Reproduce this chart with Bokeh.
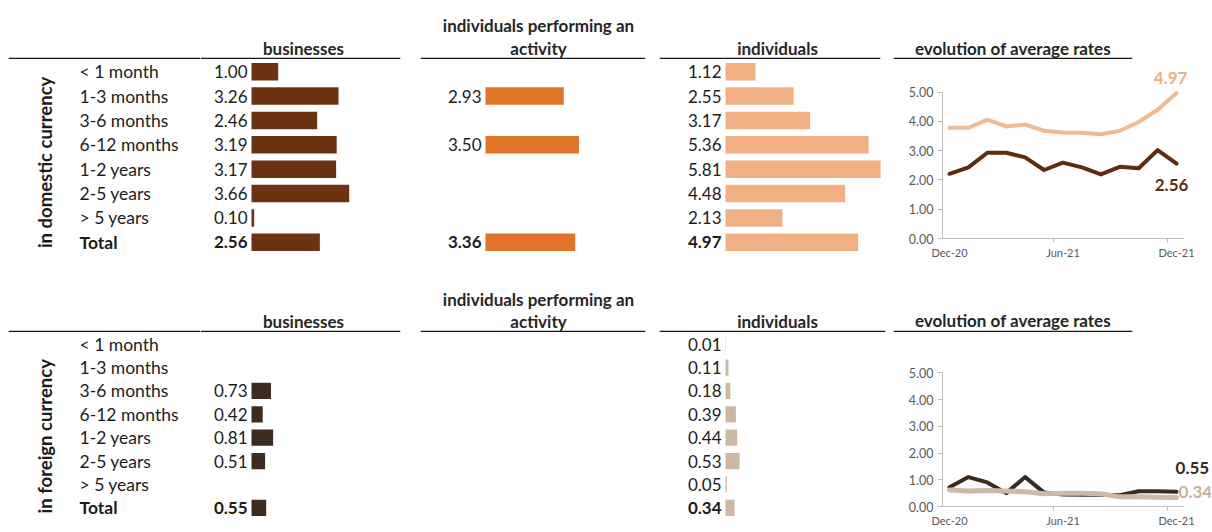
import math
from bokeh.plotting import figure
from bokeh.layouts import row, column
from bokeh.models import (Range1d, FactorRange, Span, Label, FixedTicker,
                          PrintfTickFormatter, ColumnDataSource)
from bokeh.core.properties import value
from bokeh.embed import file_html
from bokeh.resources import INLINE

# ---------------- data ----------------
terms = ["< 1 month", "1-3 months", "3-6 months", "6-12 months",
         "1-2 years", "2-5 years", "> 5 years", "Total"]

dom_business = [1.00, 3.26, 2.46, 3.19, 3.17, 3.66, 0.10, 2.56]
dom_activity = [None, 2.93, None, 3.50, None, None, None, 3.36]
dom_individuals = [1.12, 2.55, 3.17, 5.36, 5.81, 4.48, 2.13, 4.97]

for_business = [None, None, 0.73, 0.42, 0.81, 0.51, None, 0.55]
for_activity = [None, None, None, None, None, None, None, None]
for_individuals = [0.01, 0.11, 0.18, 0.39, 0.44, 0.53, 0.05, 0.34]

months = ["Dec-20", "Jan-21", "Feb-21", "Mar-21", "Apr-21", "May-21", "Jun-21",
          "Jul-21", "Aug-21", "Sep-21", "Oct-21", "Nov-21", "Dec-21"]
tick_months = ["Dec-20", "Jun-21", "Dec-21"]
rate_ticks = [0, 1, 2, 3, 4, 5]

dom_rate_business = [2.21, 2.43, 2.93, 2.93, 2.77, 2.34, 2.59, 2.43, 2.19, 2.45, 2.40, 3.02, 2.56]
dom_rate_individuals = [3.78, 3.78, 4.06, 3.83, 3.89, 3.68, 3.62, 3.61, 3.56, 3.68, 3.98, 4.40, 4.97]
for_rate_business = [0.72, 1.10, 0.90, 0.50, 1.10, 0.52, 0.45, 0.44, 0.44, 0.42, 0.57, 0.57, 0.55]
for_rate_individuals = [0.62, 0.58, 0.60, 0.58, 0.55, 0.48, 0.50, 0.50, 0.48, 0.36, 0.36, 0.35, 0.34]

headers = ["businesses", "individuals performing an", "activity", "individuals",
           "evolution of average rates"]
section_titles = ["in domestic currency", "in foreign currency"]

# ---------------- styles ----------------
FONT = "Lato"
FS = "17px"
TXT = "#1c1c1c"
PX = 26.7  # pixels per rate unit in the bar panels

W_L, W_B, W_A, W_I, W_E = 200, 205, 247, 234, 325
ZERO_B, ZERO_A, ZERO_I = 51, 80, 73
LINE_PX = 18.92  # pixels per month in the rate panels
E_LEFT = 56


def base_fig(width, height, xr, yr, **kw):
    p = figure(width=width, height=height, x_range=xr, y_range=yr,
               output_backend="svg", toolbar_location=None, title=None,
               x_axis_location=None, y_axis_location=None, min_border=0, **kw)
    p.grid.visible = False
    p.outline_line_color = None
    return p


def header_fig(width, height, bl, br, texts, line_y):
    fw = width - bl - br
    p = base_fig(width, height, Range1d(0, fw), Range1d(height, 0),
                 min_border_left=bl, min_border_right=br)
    if texts:
        src = ColumnDataSource(dict(x=[t[1] for t in texts], y=[t[2] for t in texts],
                                    t=[t[0] for t in texts]))
        p.text(x="x", y="y", text="t", source=src, text_align="center",
               text_baseline="middle", text_font=value(FONT), text_font_size=FS,
               text_font_style="bold", text_color="#262626")
    p.add_layout(Span(location=line_y, dimension="width", line_color="#1a1a1a",
                      line_width=1.6))
    return p


def label_fig(width, height, bottom, title, title_y):
    p = base_fig(width, height, Range1d(0, width), FactorRange(factors=terms[::-1]),
                 min_border_bottom=bottom)
    src = ColumnDataSource(dict(y=terms, t=terms,
                                st=["bold" if t == "Total" else "normal" for t in terms]))
    p.text(x=79, y="y", text="t", source=src, text_align="left", text_baseline="middle",
           text_font=value(FONT), text_font_size="17.5px", text_font_style={"field": "st"},
           text_color=TXT)
    p.text(x=[44], y=[title_y], text=[title], angle=math.pi / 2, text_align="center",
           text_baseline="middle", text_font=value(FONT), text_font_size="18.5px",
           text_font_style="bold", text_color=TXT)
    return p


def bar_fig(width, height, bottom, zero, vals, color, bar_h):
    p = base_fig(width, height, Range1d(-zero / PX, (width - zero) / PX),
                 FactorRange(factors=terms[::-1]), min_border_bottom=bottom)
    idx = [i for i, v in enumerate(vals) if v is not None]
    src = ColumnDataSource(dict(
        y=[terms[i] for i in idx], v=[vals[i] for i in idx],
        lab=["%.2f" % vals[i] for i in idx],
        st=["bold" if terms[i] == "Total" else "normal" for i in idx]))
    p.hbar(y="y", left=0, right="v", height=bar_h, source=src, fill_color=color,
           line_color=None)
    p.text(x=0, y="y", text="lab", source=src, x_offset=-4, text_align="right",
           text_baseline="middle", text_font=value(FONT), text_font_size=FS,
           text_font_style={"field": "st"}, text_color=TXT)
    return p


def rate_fig(width, height, bottom, px_unit, top_px, biz, ind, c_biz, c_ind,
             w_biz, w_ind, lab_biz, lab_ind, c_lab_biz, c_lab_ind):
    n = len(months)
    fw = width - E_LEFT
    x0 = -0.37
    x1 = x0 + fw / LINE_PX
    y1 = 5 + top_px / px_unit
    p = figure(width=width, height=height, x_range=Range1d(x0, x1),
               y_range=Range1d(0, y1), output_backend="svg", toolbar_location=None,
               title=None, min_border=0, min_border_left=E_LEFT, min_border_right=0,
               min_border_top=0, min_border_bottom=bottom)
    p.grid.visible = False
    p.outline_line_color = None
    xs = list(range(n))
    for ys, c, w in [(biz, c_biz, w_biz), (ind, c_ind, w_ind)]:
        p.line(xs, ys, line_color=c, line_width=w, line_cap="round", line_join="round")
    ax = p.yaxis[0]
    ax.bounds = (0, 5)
    ax.ticker = FixedTicker(ticks=rate_ticks)
    ax.formatter = PrintfTickFormatter(format="%.2f")
    ax.axis_line_color = "#bfbfbf"
    ax.major_tick_line_color = "#bfbfbf"
    ax.major_tick_out = 5
    ax.major_tick_in = 0
    ax.minor_tick_line_color = None
    ax.major_label_text_font = FONT
    ax.major_label_text_font_size = "12.5px"
    ax.major_label_text_color = "#595959"
    ax.major_label_standoff = 4
    ax.axis_label_standoff = 0
    bx = p.xaxis[0]
    bx.bounds = (x0, n - 1 - x0)
    tpos = [months.index(m) for m in tick_months]
    bx.ticker = FixedTicker(ticks=tpos, minor_ticks=[t - 0.5 for t in tpos[1:]])
    bx.major_label_overrides = {t: months[t] for t in tpos}
    bx.axis_line_color = "#bfbfbf"
    bx.major_tick_line_color = None
    bx.major_tick_out = 0
    bx.major_tick_in = 0
    bx.minor_tick_line_color = "#bfbfbf"
    bx.minor_tick_out = 4
    bx.minor_tick_in = 0
    bx.major_label_text_font = FONT
    bx.major_label_text_font_size = "11px"
    bx.major_label_text_color = "#595959"
    bx.major_label_standoff = 3
    bx.axis_label_standoff = 0
    for ys, c, (dx, dy, al) in [(biz, c_lab_biz, lab_biz), (ind, c_lab_ind, lab_ind)]:
        p.add_layout(Label(x=n - 1, y=ys[-1], text="%.2f" % ys[-1], x_offset=dx, y_offset=dy,
                           text_align=al, text_baseline="middle", text_font=FONT,
                           text_font_size=FS, text_font_style="bold", text_color=c))
    return p


# ---------------- top section: domestic currency ----------------
TH, TB = 59, 202
top_head = row(
    header_fig(W_L, TH, 8, 0, [], 58),
    header_fig(W_B, TH, 0, 5, [(headers[0], 103, 48)], 58),
    header_fig(W_A, TH, 15, 7, [(headers[1], 118, 25), (headers[2], 118, 48)], 58),
    header_fig(W_I, TH, 7, 6, [(headers[3], 118, 48)], 58),
    header_fig(W_E, TH, 7, W_E - 7 - 239, [(headers[4], 119.5, 48)], 58),
)
top_body = row(
    label_fig(W_L, TB, 7, section_titles[0], 3.78),
    bar_fig(W_B, TB, 7, ZERO_B, dom_business, "#6b3312", 0.72),
    bar_fig(W_A, TB, 7, ZERO_A, dom_activity, "#e07428", 0.72),
    bar_fig(W_I, TB, 7, ZERO_I, dom_individuals, "#f0b084", 0.72),
    column(rate_fig(W_E, TB, 21, 29.6, 33, dom_rate_business, dom_rate_individuals,
                    "#5e2c10", "#eebb92", 4, 4,
                    lab_biz=(-5, -21, "center"), lab_ind=(-6, 15, "center"),
                    c_lab_biz="#5a2d12", c_lab_ind="#efb07f")),
)

# ---------------- bottom section: foreign currency ----------------
BH, BB = 71, 197
bot_head = row(
    header_fig(W_L, BH, 8, 0, [], 70),
    header_fig(W_B, BH, 0, 5, [(headers[0], 103, 60)], 70),
    header_fig(W_A, BH, 15, 7, [(headers[1], 118, 38), (headers[2], 118, 60)], 70),
    header_fig(W_I, BH, 7, 1, [(headers[3], 118, 60)], 70),
    header_fig(W_E, BH, 7, W_E - 7 - 239, [(headers[4], 119.5, 59)], 70),
)
bot_body = row(
    label_fig(W_L, BB, 10, section_titles[1], 3.56),
    bar_fig(W_B, BB, 10, ZERO_B, for_business, "#3e2c20", 0.7),
    bar_fig(W_A, BB, 10, ZERO_A, for_activity, "#3e2c20", 0.7),
    bar_fig(W_I, BB, 10, ZERO_I, for_individuals, "#cdb8a6", 0.7),
    column(rate_fig(W_E, BB, 20, 27.2, 41, for_rate_business, for_rate_individuals,
                    "#3b2a1e", "#ccb9a8", 4, 5,
                    lab_biz=(-1, 24, "left"), lab_ind=(2, 5, "left"),
                    c_lab_biz="#3b2a1e", c_lab_ind="#c8b3a0")),
)

layout = column(top_head, top_body, bot_head, bot_body)
open("out.html", "w").write(file_html(layout, INLINE))
